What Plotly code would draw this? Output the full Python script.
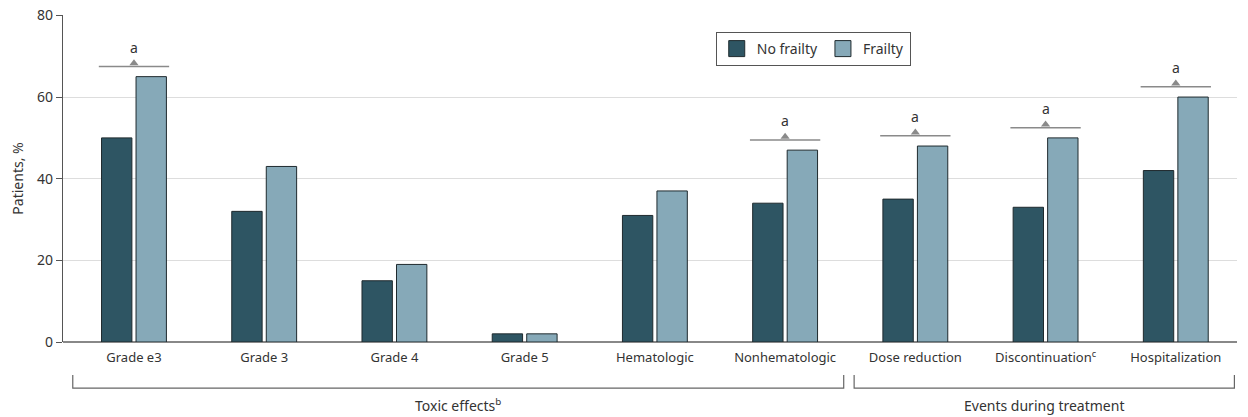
import plotly.graph_objects as go

categories = ["Grade e3", "Grade 3", "Grade 4", "Grade 5", "Hematologic",
              "Nonhematologic", "Dose reduction", "Discontinuation<sup>c</sup>", "Hospitalization"]
no_frailty = [50, 32, 15, 2, 31, 34, 35, 33, 42]
frailty = [65, 43, 19, 2, 37, 47, 48, 50, 60]
significant = [True, False, False, False, False, True, True, True, True]
groups = [("Toxic effects<sup>b</sup>", 0, 5), ("Events during treatment", 6, 8)]
y_ticks = [0, 20, 40, 60, 80]

DARK = "#2E5563"
LIGHT = "#86A9B8"
TEXT = "#333333"
FONT = "Noto Sans"

idx = list(range(len(categories)))

fig = go.Figure()
fig.add_trace(go.Bar(x=idx, y=no_frailty, name="No frailty", marker_color=DARK,
                     marker_line=dict(color="#1f2a2e", width=1), showlegend=False))
fig.add_trace(go.Bar(x=idx, y=frailty, name="Frailty", marker_color=LIGHT,
                     marker_line=dict(color="#1f2a2e", width=1), showlegend=False))

# legend entries with bigger squares
for name, col in [("No frailty", DARK), ("Frailty", LIGHT)]:
    fig.add_trace(go.Scatter(x=[None], y=[None], mode="markers", name=name,
                             marker=dict(symbol="square", size=16, color=col,
                                         line=dict(color="#1f2a2e", width=1))))

# significance markers
sig_x, sig_y = [], []
for i, s in enumerate(significant):
    if not s:
        continue
    top = max(no_frailty[i], frailty[i]) + 2.5
    fig.add_shape(type="line", x0=i - 0.27, x1=i + 0.27, y0=top, y1=top,
                  line=dict(color="#8a8a8a", width=1.5))
    sig_x.append(i)
    sig_y.append(top + 0.8)
    fig.add_annotation(x=i, y=top, text="a", showarrow=False, yshift=19,
                       font=dict(size=14, color=TEXT, family=FONT))
fig.add_trace(go.Scatter(x=sig_x, y=sig_y, mode="markers", showlegend=False, hoverinfo="skip",
                         marker=dict(symbol="triangle-up", size=8, color="#8a8a8a")))

# group brackets under the axis
for label, a, b in groups:
    x0, x1 = a - 0.47, b + 0.45
    fig.add_shape(type="path", xref="x", yref="paper",
                  path=f"M {x0},-0.101 L {x0},-0.141 L {x1},-0.141 L {x1},-0.101",
                  line=dict(color="#666666", width=1.2))
    fig.add_annotation(x=(x0 + x1) / 2, y=-0.193, xref="x", yref="paper", text=label,
                       showarrow=False, yanchor="middle",
                       font=dict(size=14, color=TEXT, family=FONT))

# page body has an 8px margin, so the figure is 8px smaller than the window
fig.update_layout(
    width=1240, height=409,
    margin=dict(l=55, r=11, t=7, b=75),
    paper_bgcolor="white", plot_bgcolor="white",
    barmode="group", bargap=0.47, bargroupgap=0.12,
    font=dict(family=FONT, size=13, color=TEXT),
    legend=dict(orientation="h", x=0.556, y=0.948, xanchor="left", yanchor="top",
                bordercolor="#555555", borderwidth=1, bgcolor="white",
                font=dict(size=14, color=TEXT), itemwidth=30, tracegroupgap=0),
)
fig.update_xaxes(range=[-0.545, 8.47], tickvals=idx, ticktext=categories, automargin=False,
                 showgrid=False, zeroline=False, showline=False, ticks="",
                 ticklabelstandoff=6, tickfont=dict(size=13, color=TEXT))
fig.update_yaxes(range=[0, 80.1], tickvals=y_ticks, showgrid=True, gridcolor="#dddddd",
                 gridwidth=1, zeroline=True, zerolinecolor="#888888", zerolinewidth=1.5,
                 showline=True, linecolor="#555555", linewidth=1.2, automargin=False,
                 ticks="outside", ticklen=6, tickcolor="#555555", ticklabeloverflow="allow",
                 tickfont=dict(size=14, color=TEXT),
                 title=dict(text="Patients, %", font=dict(size=14, color=TEXT), standoff=14))

fig.write_html("out.html")
